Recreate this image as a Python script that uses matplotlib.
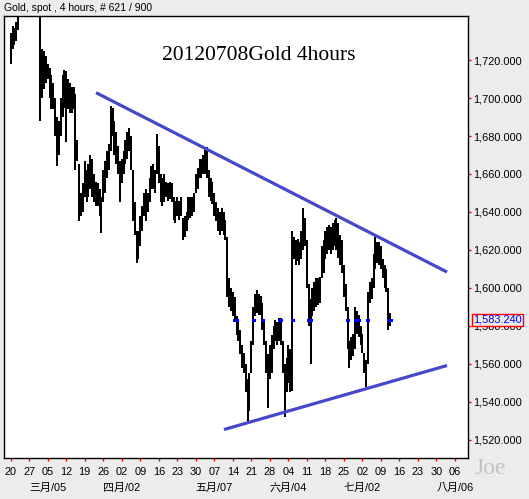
import matplotlib
matplotlib.use("Agg")
import matplotlib.pyplot as plt
import matplotlib.transforms as mtransforms
from matplotlib.ticker import FuncFormatter, FixedLocator
import numpy as np

# ---------------- data (half-day bars, 10 per week, index 0 = 2012-02-20) -------------
bar_low = [
    1718, 1726, 1728, 1730, 1736, 1745, 1750, 1752, 1755, 1760,
    1765, 1768, 1770, 1775, 1780, 1775, 1688, 1700, 1705, 1708,
    1710, 1700, 1694, 1694, 1680, 1664, 1670, 1680, 1690, 1695,
    1677, 1694, 1692, 1692, 1694, 1662, 1667, 1635, 1638, 1640,
    1648, 1645, 1648, 1652, 1648, 1645, 1643, 1643, 1638, 1629,
    1645, 1650, 1658, 1662, 1672, 1680, 1670, 1665, 1660, 1645,
    1655, 1660, 1665, 1668, 1672, 1662, 1635, 1628, 1613, 1615,
    1622, 1630, 1638, 1635, 1640, 1645, 1652, 1652, 1650, 1660,
    1655, 1645, 1643, 1645, 1648, 1646, 1647, 1645, 1636, 1634,
    1638, 1636, 1638, 1625, 1627, 1630, 1636, 1637, 1638, 1640,
    1650, 1652, 1658, 1658, 1660, 1660, 1658, 1648, 1646, 1644,
    1638, 1635, 1630, 1628, 1630, 1628, 1625, 1595, 1590, 1588,
    1585, 1583, 1575, 1572, 1565, 1558, 1555, 1545, 1530, 1535,
    1555, 1570, 1585, 1587, 1586, 1586, 1578, 1570, 1555, 1537,
    1552, 1555, 1568, 1572, 1570, 1572, 1570, 1555, 1532, 1545,
    1550, 1545, 1546, 1615, 1612, 1614, 1612, 1615, 1620, 1622,
    1600, 1580, 1560, 1585, 1588, 1590, 1591, 1592, 1605, 1608,
    1615, 1618, 1620, 1618, 1620, 1622, 1620, 1616, 1612, 1608,
    1595, 1588, 1568, 1558, 1562, 1564, 1568, 1576, 1574, 1570,
    1566, 1555, 1548, 1560, 1592, 1594, 1600, 1610, 1613, 1612,
    1610, 1605, 1600, 1598, 1578, 1580,
]
bar_high = [
    1734, 1738, 1737, 1740, 1748, 1760, 1765, 1768, 1775, 1780,
    1780, 1785, 1785, 1790, 1792, 1790, 1790, 1726, 1725, 1722,
    1718, 1716, 1712, 1708, 1700, 1690, 1688, 1700, 1712, 1715,
    1714, 1710, 1708, 1706, 1706, 1702, 1678, 1665, 1650, 1655,
    1667, 1662, 1665, 1670, 1668, 1660, 1656, 1655, 1652, 1648,
    1662, 1667, 1672, 1676, 1696, 1695, 1688, 1682, 1675, 1667,
    1668, 1672, 1678, 1682, 1684, 1680, 1662, 1645, 1630, 1630,
    1638, 1643, 1650, 1652, 1650, 1658, 1664, 1665, 1662, 1681,
    1675, 1660, 1658, 1660, 1656, 1655, 1656, 1655, 1648, 1646,
    1648, 1646, 1648, 1637, 1638, 1640, 1648, 1648, 1648, 1650,
    1660, 1663, 1668, 1668, 1670, 1673, 1674, 1662, 1658, 1656,
    1650, 1645, 1642, 1640, 1642, 1640, 1636, 1627, 1605, 1600,
    1598, 1595, 1585, 1583, 1578, 1570, 1566, 1560, 1552, 1555,
    1572, 1590, 1597, 1599, 1597, 1596, 1592, 1582, 1572, 1565,
    1570, 1575, 1580, 1583, 1582, 1584, 1584, 1572, 1560, 1563,
    1570, 1568, 1630, 1627, 1625, 1626, 1624, 1630, 1642, 1637,
    1625, 1602, 1594, 1600, 1603, 1605, 1605, 1606, 1622, 1625,
    1630, 1632, 1633, 1632, 1634, 1636, 1637, 1634, 1628, 1625,
    1612, 1602, 1590, 1572, 1574, 1576, 1590, 1588, 1586, 1580,
    1576, 1566, 1562, 1598, 1603, 1605, 1618, 1627, 1624, 1624,
    1622, 1615, 1612, 1610, 1600, 1587,
]
last_price = 1583.24

# trend lines: (bar index, price) end points
upper_line_x = [46.1, 235.7]
upper_line_y = [1702.8, 1608.4]
lower_line_x = [115.2, 235.7]
lower_line_y = [1525.5, 1559.2]

# axis labels
week_ticks = [0, 10, 20, 30, 40, 50, 60, 70, 80, 90, 100, 110, 120, 130, 140,
              150, 160, 170, 180, 190, 200, 210, 220, 230, 240]
week_labels = ["20", "27", "05", "12", "19", "26", "02", "09", "16", "23", "30",
               "07", "14", "21", "28", "04", "11", "18", "25", "02", "09", "16",
               "23", "30", "06"]
month_ticks = [20, 60, 110, 150, 190, 240]
month_labels = ["三月/05", "四月/02", "五月/07", "六月/04", "七月/02", "八月/06"]
price_ticks = [1520, 1540, 1560, 1580, 1600, 1620, 1640, 1660, 1680, 1700, 1720]

# ---------------- figure ----------------
W, H = 529, 499
BG = "#ECECEC"
fig = plt.figure(figsize=(W / 100, H / 100), dpi=100, facecolor=BG)
ax = fig.add_axes([4 / W, 41.3 / H, 464 / W, 441.7 / H])
ax.set_facecolor("white")

x = np.arange(len(bar_low))
ax.vlines(x, bar_low, bar_high, color="black", lw=1.1, antialiased=False, zorder=3)

# blue marks of last-price level where bars cross it
lo = np.array(bar_low); hi = np.array(bar_high)
cross = x[(lo <= last_price) & (hi >= last_price)]
ax.hlines([last_price] * len(cross), cross - 0.8, cross + 0.8, color="#0000FF",
          lw=0.9, zorder=4, antialiased=False)

ax.plot(upper_line_x, upper_line_y, color="#4747CC", lw=2.3, solid_capstyle="butt", zorder=5)
ax.plot(lower_line_x, lower_line_y, color="#4747CC", lw=2.3, solid_capstyle="butt", zorder=5)

ax.set_xlim(-3.62, 247.05)
ax.set_ylim(1510.68, 1743.16)

for s in ax.spines.values():
    s.set_color("black")
    s.set_linewidth(1.0)

lab_font = "Liberation Sans"
ax.yaxis.tick_right()
ax.yaxis.set_major_locator(FixedLocator(price_ticks))
ax.yaxis.set_major_formatter(FuncFormatter(lambda v, p: f"{v:,.3f}"))
ax.tick_params(axis="y", direction="out", length=2.5, width=1, color="red",
               labelsize=7.9, pad=1.5)
ax.xaxis.set_major_locator(FixedLocator(week_ticks))
ax.set_xticklabels(week_labels)
ax.tick_params(axis="x", direction="out", length=2.5, width=1, color="red",
               labelsize=7.9, pad=4)
for t in ax.get_xticklabels() + ax.get_yticklabels():
    t.set_family(lab_font)

trans = mtransforms.blended_transform_factory(ax.transData, ax.transAxes)
for mx, ml in zip(month_ticks, month_labels):
    ax.text(mx, -0.0686, ml, transform=trans, ha="center", va="center",
            fontsize=7.9, family=["Liberation Sans", "Noto Sans CJK TC"], clip_on=False)

# last price box (drawn over the 1,580 label as in the reference)
ax.text(1 + 29.5 / 464, last_price, f"{last_price:,.3f}",
        transform=mtransforms.blended_transform_factory(ax.transAxes, ax.transData),
        ha="center", va="center", fontsize=7.9, family=lab_font, color="#0000FF",
        bbox=dict(boxstyle="square,pad=0.12", fc=BG, ec="red", lw=1.0), clip_on=False, zorder=10)

fig.text(4 / W, 1 - 8 / H, "Gold, spot , 4 hours, # 621 / 900", ha="left", va="center",
         fontsize=7.5, family=lab_font)
fig.text(258.5 / W, 1 - 55 / H, "20120708Gold 4hours", ha="center", va="center",
         fontsize=15.5, family="Liberation Serif")
fig.text(490 / W, 1 - 468 / H, "Joe", ha="center", va="center", fontsize=17,
         family="Liberation Serif", color="#C4C4C4")

fig.savefig("out.png", dpi=100, facecolor=BG)
